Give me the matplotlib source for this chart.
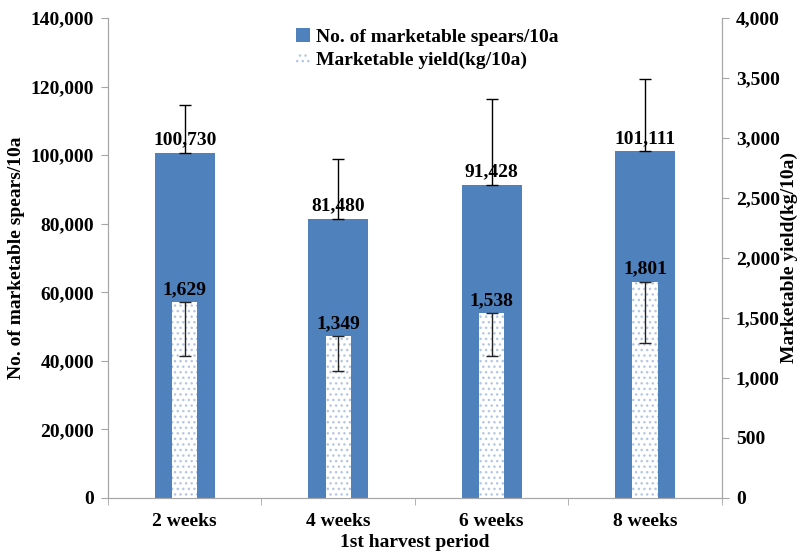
import numpy as np
import matplotlib
matplotlib.use("Agg")
import matplotlib.pyplot as plt
from matplotlib.ticker import FuncFormatter, MultipleLocator

plt.rcParams['font.family'] = ['Liberation Serif', 'DejaVu Serif']
plt.rcParams['font.weight'] = 'bold'
plt.rcParams['hatch.linewidth'] = 1.0

periods = ['2 weeks', '4 weeks', '6 weeks', '8 weeks']
spears = [100730, 81480, 91428, 101111]
spears_err = [13900, 17400, 24950, 21100]
yield_kg = [1629, 1349, 1538, 1801]
yield_err = [442, 292, 358, 508]

blue = '#4f81bd'
grey = '#a6a6a6'
x = np.arange(len(periods))

fig = plt.figure(figsize=(8.03, 5.57), dpi=100)
ax = fig.add_axes([0.1345, 0.106, 0.7645, 0.8617])
ax2 = ax.twinx()

b1 = ax.bar(x, spears, width=0.39, color=blue, linewidth=0,
            label='No. of marketable spears/10a')
ax.errorbar(x, spears, yerr=[np.zeros(4), spears_err], fmt='none',
            ecolor='black', elinewidth=1, capsize=4, capthick=1)
for xi, v in zip(x, spears):
    ax.annotate(f'{v:,}', (xi, v), xytext=(0, 3), textcoords='offset points',
                ha='center', va='bottom', fontsize=14, fontweight='bold')

b2 = ax2.bar(x, yield_kg, width=0.165, color='white', edgecolor='#b4c7e0',
             hatch='...', linewidth=0, label='Marketable yield(kg/10a)')
ax2.errorbar(x, yield_kg, yerr=[yield_err, np.zeros(4)], fmt='none',
             ecolor='#222222', elinewidth=1, capsize=4, capthick=1)
for xi, v in zip(x, yield_kg):
    ax2.annotate(f'{v:,}', (xi, v), xytext=(0, 3), textcoords='offset points',
                 ha='center', va='bottom', fontsize=14, fontweight='bold')

ax.set_xlim(-0.5, 3.5)
ax.set_ylim(0, 140000)
ax2.set_ylim(0, 4000)
ax.yaxis.set_major_locator(MultipleLocator(20000))
ax2.yaxis.set_major_locator(MultipleLocator(500))
comma = FuncFormatter(lambda v, p: f'{int(v):,}')
ax.yaxis.set_major_formatter(comma)
ax2.yaxis.set_major_formatter(comma)

ax.set_xticks(x)
ax.set_xticklabels(periods, fontsize=14, fontweight='bold')
ax.set_xticks(np.arange(-0.5, 4, 1), minor=True)
ax.tick_params(axis='x', which='major', length=0, pad=11)
ax.tick_params(axis='x', which='minor', length=5, color=grey, direction='out')

for a in (ax, ax2):
    a.tick_params(axis='y', length=5, color=grey, labelsize=14, pad=5)
    for side in ('left', 'right', 'bottom'):
        a.spines[side].set_color(grey)
    a.spines['top'].set_visible(False)
for t in ax.get_yticklabels() + ax2.get_yticklabels():
    t.set_fontweight('bold')

ax.set_xlabel('1st harvest period', fontsize=14, fontweight='bold', labelpad=3)
ax.set_ylabel('No. of marketable spears/10a', fontsize=14, fontweight='bold', labelpad=4)
ax2.set_ylabel('Marketable yield(kg/10a)', fontsize=14, fontweight='bold', labelpad=1)

ax.legend([b1, b2], [b1.get_label(), b2.get_label()], loc='upper center',
          bbox_to_anchor=(0.52, 1.015), frameon=False,
          handlelength=0.7, handleheight=0.7, handletextpad=0.3,
          labelspacing=0.3, prop={'weight': 'bold', 'size': 14})

fig.savefig('out.png', dpi=100)
